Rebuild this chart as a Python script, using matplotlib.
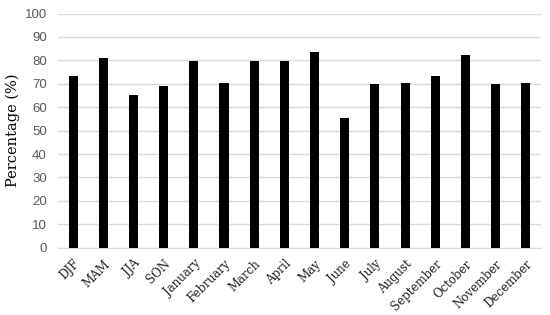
import matplotlib
matplotlib.use("Agg")
import matplotlib.pyplot as plt

categories = ["DJF", "MAM", "JJA", "SON", "January", "February", "March", "April",
              "May", "June", "July", "August", "September", "October", "November", "December"]
values = [73.3, 81.1, 65.2, 69.0, 79.8, 70.5, 79.8, 79.7,
          83.4, 55.5, 69.8, 70.5, 73.3, 82.4, 69.8, 70.5]
yticks = [0, 10, 20, 30, 40, 50, 60, 70, 80, 90, 100]

fig = plt.figure(figsize=(5.5, 3.15), dpi=100)
ax = fig.add_axes([0.1055, 0.2137, 0.878, 0.7433])
x = list(range(len(categories)))
ax.bar(x, values, width=0.3, color="black", zorder=3)
ax.set_xlim(-0.5, len(categories) - 0.5)
ax.set_ylim(0, 100)
ax.set_yticks(yticks)
ax.set_yticklabels([str(t) for t in yticks], family="Liberation Sans", fontsize=9.5, color="#595959")
ax.yaxis.grid(True, color="#d9d9d9", linewidth=1, zorder=0)
for s in ["top", "right", "left"]:
    ax.spines[s].set_visible(False)
ax.spines["bottom"].set_color("#d9d9d9")
ax.tick_params(axis="both", length=0)
ax.tick_params(axis="y", pad=8)
ax.tick_params(axis="x", pad=7)
ax.set_xticks(x)
ax.set_xticklabels(categories, rotation=45, ha="right", rotation_mode="anchor",
                   family="DejaVu Serif", fontsize=8.5, color="#222222")
ax.set_ylabel("Percentage (%)", family="DejaVu Serif", fontsize=10.5)
ax.yaxis.set_label_coords(-0.079, 0.5)
fig.savefig("out.png", dpi=100)
